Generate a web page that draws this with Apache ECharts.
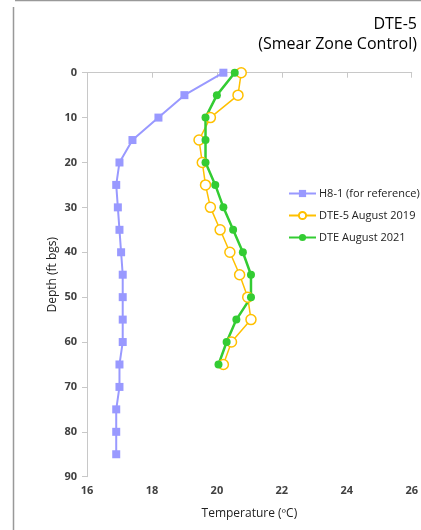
<!DOCTYPE html>
<html>
<head>
<meta charset="utf-8">
<script src="https://cdn.jsdelivr.net/npm/echarts@6/dist/echarts.min.js"></script>
<style>html,body{margin:0;padding:0;background:#fff;}#c{width:421px;height:530px;}</style>
</head>
<body>
<div id="c"></div>
<script>
var depthsH8 = [0,5,10,15,20,25,30,35,40,45,50,55,60,65,70,75,80,85];
var tempsH8 = [20.2,19.0,18.2,17.4,17.0,16.9,16.95,17.0,17.05,17.1,17.1,17.1,17.1,17.0,17.0,16.9,16.9,16.9];
var depthsDTE = [0,5,10,15,20,25,30,35,40,45,50,55,60,65];
var temps2019 = [20.75,20.65,19.8,19.45,19.55,19.65,19.8,20.1,20.4,20.7,20.95,21.05,20.45,20.2];
var temps2021 = [20.55,20.0,19.65,19.65,19.65,19.95,20.2,20.5,20.8,21.05,21.05,20.6,20.3,20.05];
var xTicks = [16,18,20,22,24,26];
var yTicks = [0,10,20,30,40,50,60,70,80,90];
var seriesNames = ['H8-1 (for reference)','DTE-5 August 2019','DTE August 2021'];

function pairs(t, d){ return t.map(function(v,i){ return [v, d[i]]; }); }

var font = '"Open Sans", "Noto Sans", sans-serif';
var chart = echarts.init(document.getElementById('c'));
chart.setOption({
  animation: false,
  backgroundColor: '#fff',
  grid: { left: 87, right: 9, top: 72.7, bottom: 53.3, containLabel: false },
  xAxis: {
    type: 'value', min: xTicks[0], max: xTicks[xTicks.length-1], interval: 2,
    name: 'Temperature (ºC)', nameLocation: 'middle', nameGap: 31,
    nameTextStyle: { fontFamily: font, fontSize: 12, color: '#222' },
    axisLine: { show: true, lineStyle: { color: '#c8c8c8', width: 1 } },
    axisTick: { show: true, length: 5, lineStyle: { color: '#c8c8c8' } },
    axisLabel: { fontFamily: font, fontSize: 11, fontWeight: 'bold', color: '#404040', margin: 9 },
    splitLine: { show: false }
  },
  yAxis: {
    type: 'value', inverse: true, min: yTicks[0], max: yTicks[yTicks.length-1], interval: 10,
    name: 'Depth (ft bgs)', nameLocation: 'middle', nameGap: 28, nameRotate: 90, nameMoveOverlap: false,
    nameTextStyle: { fontFamily: font, fontSize: 12, color: '#222' },
    axisLine: { show: true, lineStyle: { color: '#c8c8c8', width: 1 } },
    axisTick: { show: true, length: 5, lineStyle: { color: '#c8c8c8' } },
    axisLabel: { fontFamily: font, fontSize: 11, fontWeight: 'bold', color: '#404040', margin: 10 },
    splitLine: { show: false }
  },
  legend: {
    orient: 'vertical', left: 283, top: 183, itemGap: 11, itemWidth: 27, itemHeight: 9,
    textStyle: { fontFamily: font, fontSize: 11, color: '#222', padding: [0,0,0,-2] },
    data: seriesNames
  },
  graphic: [
    { type: 'line', silent: true, shape: { x1: 15, y1: 0.5, x2: 421, y2: 0.5 }, style: { stroke: '#999', lineWidth: 1.5 } },
    { type: 'line', silent: true, shape: { x1: 13.5, y1: 7, x2: 13.5, y2: 530 }, style: { stroke: '#999', lineWidth: 1.5 } },
    { type: 'text', right: 4, top: 16, style: { text: 'DTE-5', fontFamily: font, fontSize: 16, fill: '#000', textAlign: 'right' } },
    { type: 'text', right: 4, top: 36, style: { text: '(Smear Zone Control)', fontFamily: font, fontSize: 16, fill: '#000', textAlign: 'right' } }
  ],
  series: [
    {
      name: seriesNames[0], type: 'line', data: pairs(tempsH8, depthsH8),
      symbol: 'rect', symbolSize: 8, showSymbol: true,
      lineStyle: { color: '#9999ff', width: 2, type: 'solid' },
      itemStyle: { color: '#9999ff' }
    },
    {
      name: seriesNames[1], type: 'line', data: pairs(temps2019, depthsDTE),
      symbol: 'circle', symbolSize: 10, showSymbol: true,
      lineStyle: { color: '#ffc000', width: 1.5, type: 'solid' },
      itemStyle: { color: '#ffffff', borderColor: '#ffc000', borderWidth: 1.5, borderType: 'solid' }
    },
    {
      name: seriesNames[2], type: 'line', data: pairs(temps2021, depthsDTE),
      symbol: 'circle', symbolSize: 8, showSymbol: true,
      lineStyle: { color: '#33cc33', width: 2.5, type: 'solid' },
      itemStyle: { color: '#33cc33' }
    }
  ]
});
</script>
</body>
</html>
